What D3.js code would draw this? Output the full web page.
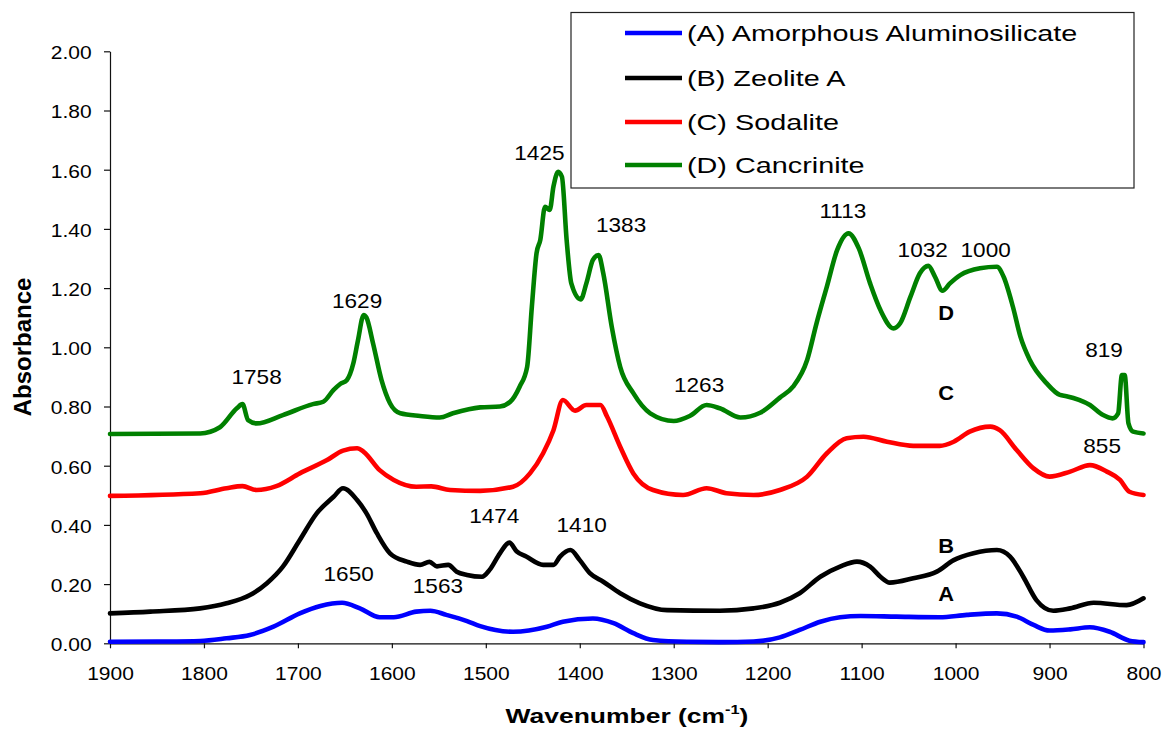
<!DOCTYPE html>
<html>
<head>
<meta charset="utf-8">
<script src="https://cdn.jsdelivr.net/npm/d3@7"></script>
<style>
  body { margin: 0; background: #fff; }
  svg { display: block; }
  text { font-family: "Liberation Sans", Arial, Helvetica, sans-serif; fill: #000; }
</style>
</head>
<body>
<svg id="chart" width="1165" height="733"></svg>
<script>
// FTIR spectra, absorbance vs wavenumber (cm^-1)
const wnA  = [1900,1850,1804,1776,1751,1726,1698,1676,1653,1634,1613,1598,1574,1559,1542,1520,1506,1471,1435,1418,1386,1364,1343,1322,1286,1250,1215,1187,1166,1144,1123,1101,1063,1017,988,956,935,917,900,878,857,836,815,800];
const absA = [0.005,0.006,0.008,0.017,0.028,0.056,0.101,0.126,0.137,0.118,0.088,0.088,0.107,0.110,0.096,0.075,0.058,0.039,0.056,0.073,0.084,0.068,0.034,0.011,0.005,0.004,0.006,0.020,0.045,0.073,0.088,0.092,0.090,0.088,0.096,0.101,0.090,0.062,0.043,0.047,0.054,0.039,0.009,0.004];

const wnB  = [1900,1857,1804,1776,1751,1733,1716,1698,1680,1662,1652,1637,1627,1616,1602,1584,1570,1560,1552,1540,1531,1520,1504,1496,1485,1475,1467,1457,1439,1428,1421,1410,1400,1389,1375,1357,1336,1307,1251,1215,1187,1166,1144,1123,1105,1091,1080,1070,1045,1020,1002,981,956,942,928,914,896,878,853,818,800];
const absB = [0.101,0.107,0.118,0.135,0.163,0.203,0.259,0.349,0.439,0.495,0.524,0.484,0.439,0.372,0.304,0.276,0.265,0.275,0.260,0.265,0.242,0.231,0.225,0.248,0.304,0.340,0.310,0.293,0.265,0.265,0.293,0.315,0.281,0.236,0.208,0.169,0.135,0.112,0.110,0.118,0.137,0.169,0.225,0.259,0.276,0.259,0.225,0.205,0.220,0.242,0.281,0.304,0.315,0.293,0.225,0.146,0.110,0.118,0.137,0.129,0.152];

const wnC  = [1900,1804,1776,1759,1744,1723,1698,1669,1652,1637,1630,1613,1598,1574,1558,1538,1506,1471,1453,1439,1428,1418,1405,1393,1378,1371,1357,1343,1322,1290,1265,1244,1215,1187,1158,1137,1116,1098,1073,1045,1017,1002,985,963,953,935,917,900,878,857,839,825,815,800];
const absC = [0.498,0.507,0.524,0.531,0.518,0.531,0.574,0.619,0.651,0.659,0.647,0.585,0.552,0.529,0.530,0.518,0.515,0.529,0.574,0.642,0.720,0.822,0.786,0.805,0.805,0.766,0.664,0.574,0.518,0.501,0.524,0.507,0.501,0.518,0.563,0.642,0.693,0.698,0.681,0.667,0.667,0.681,0.715,0.732,0.720,0.653,0.591,0.563,0.580,0.602,0.580,0.552,0.512,0.501];

const wnD  = [1900,1804,1783,1765,1759,1753,1744,1716,1684,1673,1662,1655,1648,1641,1636,1630,1627,1620,1611,1602,1591,1570,1549,1535,1506,1485,1474,1464,1456,1451,1446,1442,1437,1432,1428,1423,1419,1414,1409,1399,1393,1386,1380,1375,1366,1357,1343,1325,1300,1283,1265,1251,1229,1208,1187,1173,1158,1148,1137,1126,1114,1103,1091,1080,1066,1059,1048,1038,1029,1022,1014,1006,995,974,956,949,939,931,921,903,889,882,857,843,833,827,823,820,816,811,800];
const absD = [0.707,0.709,0.730,0.794,0.808,0.754,0.743,0.771,0.808,0.816,0.856,0.876,0.889,0.946,1.025,1.109,1.100,1.013,0.889,0.811,0.777,0.768,0.763,0.777,0.797,0.800,0.816,0.867,0.934,1.137,1.318,1.363,1.475,1.464,1.543,1.593,1.576,1.363,1.216,1.162,1.216,1.295,1.312,1.250,1.070,0.934,0.845,0.777,0.751,0.768,0.805,0.794,0.763,0.779,0.830,0.867,0.957,1.081,1.205,1.329,1.385,1.334,1.216,1.126,1.064,1.081,1.171,1.250,1.275,1.239,1.191,1.216,1.244,1.267,1.272,1.239,1.137,1.036,0.957,0.878,0.839,0.835,0.805,0.771,0.760,0.777,0.906,0.906,0.743,0.715,0.709];

const seriesNames  = ["(A) Amorphous Aluminosilicate", "(B) Zeolite A", "(C) Sodalite", "(D) Cancrinite"];
const seriesColors = ["#0000ff", "#000000", "#ff0000", "#008000"];
const seriesWn  = [wnA, wnB, wnC, wnD];
const seriesAbs = [absA, absB, absC, absD];

const xTickValues = [1900, 1800, 1700, 1600, 1500, 1400, 1300, 1200, 1100, 1000, 900, 800];
const yTickValues = [0, 0.2, 0.4, 0.6, 0.8, 1.0, 1.2, 1.4, 1.6, 1.8, 2.0];

// band assignments written over the peaks (anchor in wavenumber / absorbance units)
const peakLabels = ["1758", "1629", "1650", "1563", "1425", "1383", "1263", "1474", "1410", "1113", "1032", "1000", "819", "855"];
const peakWn     = [1744, 1637, 1646, 1551, 1443, 1356, 1273, 1491, 1398, 1120, 1035, 968, 842, 844];
const peakAbs    = [0.876, 1.132, 0.210, 0.169, 1.633, 1.391, 0.850, 0.405, 0.377, 1.436, 1.306, 1.306, 0.966, 0.644];

// curve letters
const curveTags = ["A", "B", "C", "D"];
const tagWn     = [1010, 1010, 1010, 1010];
const tagAbs    = [0.144, 0.306, 0.822, 1.092];

const svg = d3.select("#chart");
const x = d3.scaleLinear().domain([1900, 800]).range([110, 1143.5]);
const y = d3.scaleLinear().domain([0, 2]).range([643.3, 51.3]);

// horizontally widened text, anchored at (px, py)
function stext(parent, px, py, str, size, weight, anchor, sx) {
  return parent.append("text")
    .attr("transform", `translate(${px},${py}) scale(${sx},1)`)
    .attr("text-anchor", anchor)
    .attr("font-size", size)
    .attr("font-weight", weight)
    .text(str);
}

// axes
const gx = svg.append("g").attr("transform", `translate(0,${y(0)})`)
  .call(d3.axisBottom(x).tickValues(xTickValues).tickSize(5).tickSizeOuter(0).tickFormat(d3.format("d")));
gx.attr("font-size", null).attr("font-family", null);
gx.selectAll(".tick text")
  .attr("y", 36.7).attr("dy", null)
  .attr("font-size", 18.6)
  .attr("transform", "scale(1.13,1)");

const gy = svg.append("g").attr("transform", `translate(${x(1900)},0)`)
  .call(d3.axisLeft(y).tickValues(yTickValues).tickSize(6).tickSizeOuter(0).tickFormat(d3.format(".2f")));
gy.attr("font-size", null).attr("font-family", null);
gy.selectAll(".tick text")
  .attr("x", -18.3 / 1.13).attr("y", 7.3).attr("dy", null)
  .attr("font-size", 18.6)
  .attr("transform", "scale(1.13,1)");
svg.selectAll(".domain, .tick line").attr("stroke", "#111").attr("stroke-width", 1.2);

// spectra
const line = d3.line()
  .x(d => x(d[0]))
  .y(d => y(d[1]))
  .curve(d3.curveMonotoneX);

seriesWn.forEach((wn, i) => {
  const pts = wn.map((w, j) => [w, seriesAbs[i][j]]);
  svg.append("path")
    .datum(pts)
    .attr("fill", "none")
    .attr("stroke", seriesColors[i])
    .attr("stroke-width", 4.6)
    .attr("stroke-linejoin", "round")
    .attr("stroke-linecap", "round")
    .attr("d", line);
});

// peak labels
const gLab = svg.append("g");
peakLabels.forEach((t, i) => {
  stext(gLab, x(peakWn[i]), y(peakAbs[i]), t, 20, "normal", "middle", 1.13);
});
curveTags.forEach((t, i) => {
  stext(gLab, x(tagWn[i]), y(tagAbs[i]), t, 19.5, "bold", "middle", 1.12);
});

// axis titles
svg.append("text")
  .attr("transform", `translate(31,347) rotate(-90)`)
  .attr("text-anchor", "middle")
  .attr("font-size", 24)
  .attr("font-weight", "bold")
  .text("Absorbance");

const xt = svg.append("text")
  .attr("transform", `translate(627,723) scale(1.26,1)`)
  .attr("text-anchor", "middle")
  .attr("font-size", 21)
  .attr("font-weight", "bold");
xt.append("tspan").text("Wavenumber (cm");
xt.append("tspan").attr("font-size", 13).attr("dy", -9).text("-1");
xt.append("tspan").attr("dy", 9).text(")");

// legend
const legend = svg.append("g");
legend.append("rect")
  .attr("x", 571).attr("y", 12.5)
  .attr("width", 563).attr("height", 175.5)
  .attr("fill", "#fff")
  .attr("stroke", "#222")
  .attr("stroke-width", 1.2);
const rowY = [33, 78, 122, 165];
seriesNames.forEach((name, i) => {
  legend.append("line")
    .attr("x1", 625).attr("x2", 682)
    .attr("y1", rowY[i]).attr("y2", rowY[i])
    .attr("stroke", seriesColors[i])
    .attr("stroke-width", 4.5);
  stext(legend, 687, rowY[i] + 8, name, 22.5, "normal", "start", 1.28);
});
</script>
</body>
</html>
